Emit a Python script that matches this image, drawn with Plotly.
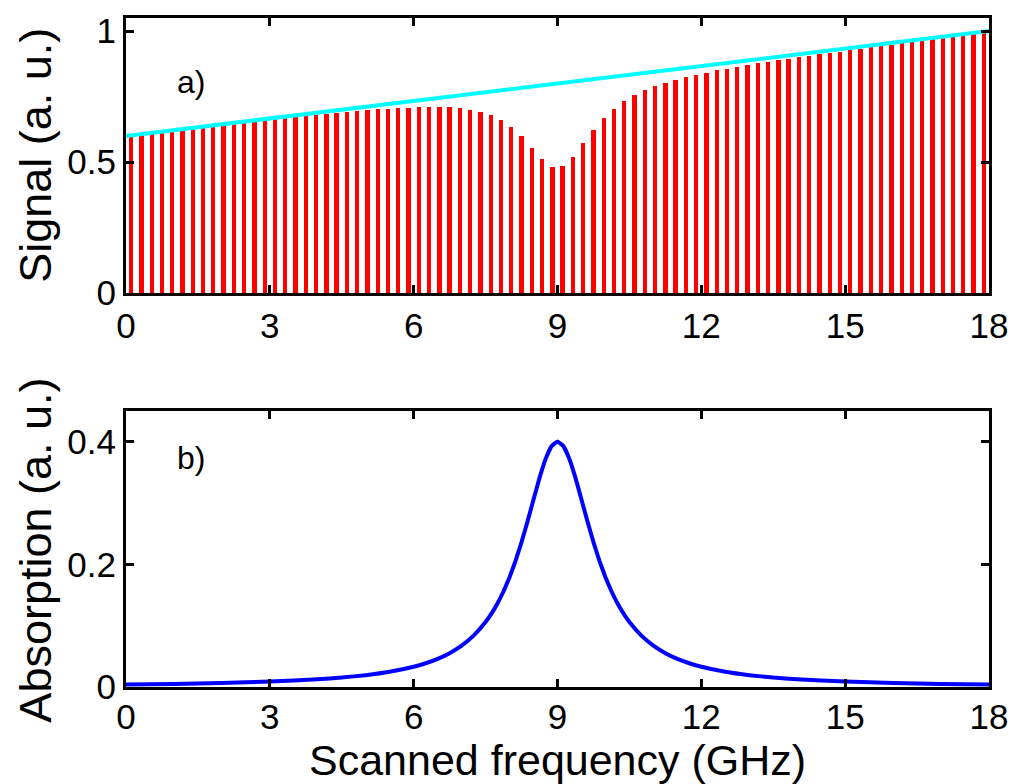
import plotly.graph_objects as go

# ---- data ----
# comb-mode frequencies (GHz) and detected signal heights (a.u.), panel a)
mode_freq = [0.107, 0.321, 0.536, 0.750, 0.964, 1.179, 1.393, 1.607, 1.821, 2.036,
             2.250, 2.464, 2.679, 2.893, 3.107, 3.321, 3.536, 3.750, 3.964, 4.179,
             4.393, 4.607, 4.821, 5.036, 5.250, 5.464, 5.679, 5.893, 6.107, 6.321,
             6.536, 6.750, 6.964, 7.179, 7.393, 7.607, 7.821, 8.036, 8.250, 8.464,
             8.679, 8.893, 9.107, 9.321, 9.536, 9.750, 9.964, 10.179, 10.393, 10.607,
             10.821, 11.036, 11.250, 11.464, 11.679, 11.893, 12.107, 12.321, 12.536, 12.750,
             12.964, 13.179, 13.393, 13.607, 13.821, 14.036, 14.250, 14.464, 14.679, 14.893,
             15.107, 15.321, 15.536, 15.750, 15.964, 16.179, 16.393, 16.607, 16.821, 17.036,
             17.250, 17.464, 17.679, 17.893]
mode_signal = [0.600, 0.605, 0.609, 0.614, 0.618, 0.623, 0.627, 0.632, 0.637, 0.641,
               0.645, 0.650, 0.654, 0.659, 0.663, 0.667, 0.671, 0.676, 0.680, 0.684,
               0.687, 0.691, 0.695, 0.698, 0.701, 0.704, 0.706, 0.708, 0.710, 0.710,
               0.710, 0.709, 0.705, 0.700, 0.691, 0.678, 0.660, 0.634, 0.598, 0.555,
               0.512, 0.483, 0.486, 0.521, 0.572, 0.624, 0.668, 0.704, 0.733, 0.756,
               0.775, 0.790, 0.803, 0.815, 0.825, 0.834, 0.842, 0.850, 0.857, 0.864,
               0.871, 0.877, 0.883, 0.889, 0.895, 0.901, 0.906, 0.912, 0.917, 0.922,
               0.928, 0.933, 0.938, 0.943, 0.948, 0.954, 0.959, 0.964, 0.969, 0.974,
               0.979, 0.984, 0.989, 0.994]

# background (reference) level, panel a)
ref_freq = [0, 18]
ref_signal = [0.6, 1.0]

# absorption profile, panel b)
abs_freq = [0, 1, 2, 3, 4, 4.5, 5, 5.5, 6, 6.25, 6.5, 6.75, 7, 7.25, 7.5, 7.625, 7.75,
            7.875, 8, 8.125, 8.25, 8.375, 8.5, 8.625, 8.75, 8.875, 9,
            9.125, 9.25, 9.375, 9.5, 9.625, 9.75, 9.875, 10, 10.125, 10.25, 10.375,
            10.5, 10.75, 11, 11.25, 11.5, 11.75, 12, 12.5, 13, 13.5, 14, 15, 16, 17, 18]
absorption = [0.0040, 0.0050, 0.0065, 0.0088, 0.0126, 0.0154, 0.0193, 0.0248, 0.0330,
              0.0387, 0.0459, 0.0552, 0.0674, 0.0837, 0.1059, 0.1200, 0.1366,
              0.1561, 0.1790, 0.2056, 0.2361, 0.2699, 0.3057, 0.3408, 0.3713, 0.3924, 0.4000,
              0.3924, 0.3713, 0.3408, 0.3057, 0.2699, 0.2361, 0.2056, 0.1790, 0.1561, 0.1366,
              0.1200, 0.1059, 0.0837, 0.0674, 0.0552, 0.0459, 0.0387, 0.0330, 0.0248,
              0.0193, 0.0154, 0.0126, 0.0088, 0.0065, 0.0050, 0.0040]

x_ticks = [0, 3, 6, 9, 12, 15, 18]

FONT = "Arial, Liberation Sans, sans-serif"

fig = go.Figure()

fig.add_trace(go.Bar(x=mode_freq, y=mode_signal, width=0.09,
                     marker=dict(color="#FF0000", line=dict(width=0)),
                     xaxis="x", yaxis="y", showlegend=False))
fig.add_trace(go.Scatter(x=ref_freq, y=ref_signal, mode="lines",
                         line=dict(color="#00FFFF", width=4),
                         xaxis="x", yaxis="y", showlegend=False))
fig.add_trace(go.Scatter(x=abs_freq, y=absorption, mode="lines",
                         line=dict(color="#0000FF", width=4, shape="spline", smoothing=0.3),
                         xaxis="x2", yaxis="y2", showlegend=False))

axis_common = dict(showline=True, linecolor="black", linewidth=3, mirror="ticks",
                   ticks="inside", ticklen=8, tickwidth=2.5, tickcolor="black",
                   showgrid=False, zeroline=False,
                   tickfont=dict(family=FONT, size=35, color="black"))

top_dom = [(687 - 289) / 676, 1.0]
bot_dom = [0.0, (687 - 408) / 676]

fig.update_layout(
    width=1019, height=784,
    margin=dict(l=126, r=28, t=11, b=97),
    paper_bgcolor="white", plot_bgcolor="white",
    bargap=0,
    xaxis=dict(domain=[0, 1], range=[0, 18], tickvals=x_ticks, anchor="y", **axis_common),
    yaxis=dict(domain=top_dom, range=[0, 1.05], tickvals=[0, 0.5, 1], anchor="x", **axis_common),
    xaxis2=dict(domain=[0, 1], range=[0, 18], tickvals=x_ticks, anchor="y2",
                ticklabelstandoff=-3, **axis_common),
    yaxis2=dict(domain=bot_dom, range=[0, 0.45], tickvals=[0, 0.2, 0.4], anchor="x2", **axis_common),
    annotations=[
        dict(text="a)", x=1.35, y=0.805, xref="x", yref="y", showarrow=False,
             font=dict(family=FONT, size=32, color="black"), xanchor="center", yanchor="middle"),
        dict(text="b)", x=1.35, y=0.373, xref="x2", yref="y2", showarrow=False,
             font=dict(family=FONT, size=32, color="black"), xanchor="center", yanchor="middle"),
        dict(text="Signal (a. u.)", x=-(126 - 35) / 865, y=(top_dom[0] + top_dom[1]) / 2,
             xref="paper", yref="paper", textangle=-90, showarrow=False,
             font=dict(family=FONT, size=45, color="black"), xanchor="center", yanchor="middle"),
        dict(text="Absorption (a. u.)", x=-(126 - 35) / 865, y=(687 - 549) / 676,
             xref="paper", yref="paper", textangle=-90, showarrow=False,
             font=dict(family=FONT, size=45, color="black"), xanchor="center", yanchor="middle"),
        dict(text="Scanned frequency (GHz)", x=0.5, y=(687 - 761) / 676,
             xref="paper", yref="paper", showarrow=False,
             font=dict(family=FONT, size=43, color="black"), xanchor="center", yanchor="middle"),
    ],
)

fig.write_html("out.html")
